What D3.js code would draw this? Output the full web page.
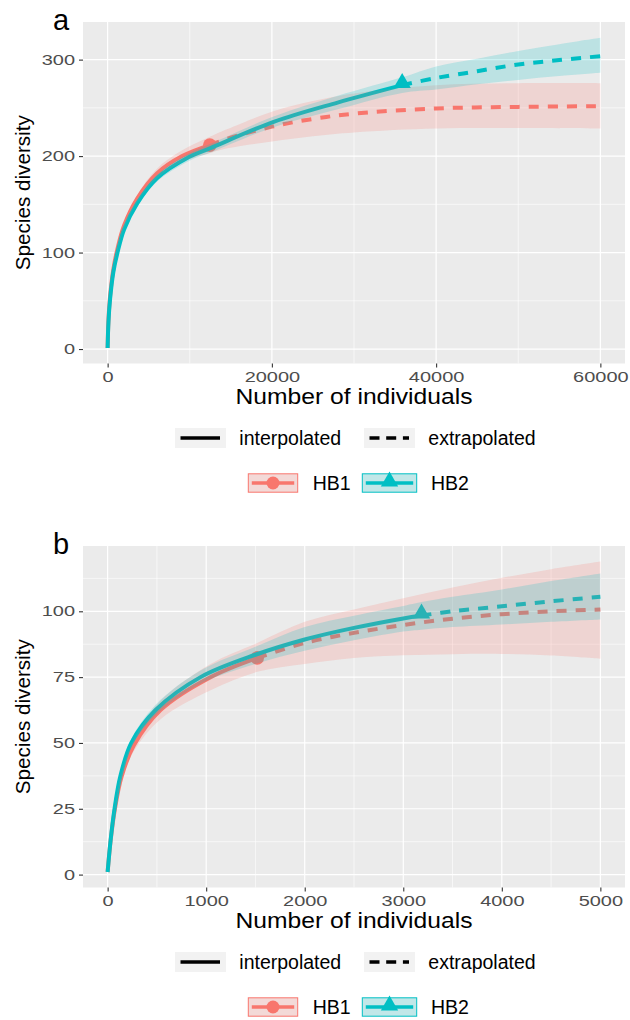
<!DOCTYPE html>
<html>
<head>
<meta charset="utf-8">
<script src="https://cdn.jsdelivr.net/npm/d3@7"></script>
<style>
  body { margin: 0; background: #fff; }
  svg { display: block; }
  text { font-family: "Liberation Sans", Arial, sans-serif; }
</style>
</head>
<body>
<svg id="chart" width="630" height="1020"></svg>
<script>
// --- DATA ---
// panel a
const a_HB1_n  = [0, 100, 300, 700, 1200, 2000, 3600, 6000, 9080, 12440, 14600, 20000, 25000, 30000, 40000, 50000, 60000];
const a_HB1_qD = [1, 30, 55, 83, 104, 128, 156, 182, 200, 211.4, 218, 230.5, 238.5, 244, 249.4, 251, 251.8];
const a_HB1_lo = [1, 29.5, 54, 81.5, 102, 125.5, 152.5, 177, 194, 203, 208, 215, 220.5, 224.5, 228.5, 229, 228.5];
const a_HB1_hi = [1, 30.5, 56, 84.5, 106, 130.5, 159.5, 187, 206, 220, 228, 246, 257, 265, 273.5, 275.5, 275.5];
const a_HB1_ref = 12440;

const a_HB2_n  = [0, 100, 300, 700, 1200, 2000, 3600, 6000, 9900, 12440, 20220, 28000, 35866, 40000, 45000, 50000, 55000, 60000];
const a_HB2_qD = [1, 28, 52, 80, 100, 124, 151, 177, 199, 208, 235.5, 255.5, 273.6, 281, 288, 295, 299.5, 303.6];
const a_HB2_lo = [1, 27.5, 51, 78.5, 98, 121.5, 148, 173.5, 195, 203.5, 230, 248.5, 265.5, 269, 274.5, 279, 283, 286.3];
const a_HB2_hi = [1, 28.5, 53, 81.5, 102, 126.5, 154, 180.5, 203, 212.5, 241, 262.5, 281.7, 293, 301, 309, 316, 322.6];
const a_HB2_ref = 35866;

// panel b
const b_HB1_n  = [0, 30, 72, 140, 265, 537, 1045, 1518, 2000, 2500, 3000, 3500, 4000, 4500, 5000];
const b_HB1_qD = [1, 12.8, 24.5, 37, 49, 62.5, 75, 82.3, 88, 91.8, 94.8, 97.2, 98.9, 100, 100.7];
const b_HB1_lo = [1, 12.4, 23.6, 35.6, 46.8, 59, 70, 77, 80, 82.3, 83.3, 83.7, 83.8, 83.2, 82];
const b_HB1_hi = [1, 13.2, 25.4, 38.4, 51.2, 66, 80, 88, 96, 100.7, 105, 109, 112.7, 116, 118.9];
const b_HB1_ref = 1518;

const b_HB2_n  = [0, 30, 70, 130, 240, 487, 943, 1500, 2000, 2500, 3000, 3185, 3500, 4000, 4500, 5000];
const b_HB2_qD = [1, 13, 25, 37.5, 50, 62.5, 75, 83.5, 89.3, 93.7, 97.3, 98.4, 100, 101.9, 103.8, 105.5];
const b_HB2_lo = [1, 12.7, 24.3, 36.5, 48.5, 60.5, 72.5, 80, 85, 89, 92.3, 93, 94, 95, 96, 96.9];
const b_HB2_hi = [1, 13.3, 25.7, 38.5, 51.5, 64.5, 77.5, 86.5, 94, 98.3, 102, 103.5, 105.5, 108.3, 111.5, 114.4];
const b_HB2_ref = 3185;

const a_xTicks = [0, 20000, 40000, 60000];
const a_xMinor = [10000, 30000, 50000];
const a_yTicks = [0, 100, 200, 300];
const a_yMinor = [50, 150, 250];
const b_xTicks = [0, 1000, 2000, 3000, 4000, 5000];
const b_xMinor = [500, 1500, 2500, 3500, 4500];
const b_yTicks = [0, 25, 50, 75, 100];
const b_yMinor = [12.5, 37.5, 62.5, 87.5, 112.5];

const sites = ["HB1", "HB2"];
const methods = ["interpolated", "extrapolated"];

// --- SETUP ---
const svg = d3.select("#chart");
const RED = "#F8766D", TEAL = "#00BFC4";
const colorOf = { HB1: RED, HB2: TEAL };
const L = 83, R = 625, H = 341.5;

function series(n, qD, lo, hi, ref) {
    return n.map((v, i) => ({ n: v, qD: qD[i], lo: lo[i], hi: hi[i], ref: ref }));
}

function drawPanel(p) {
    const top = p.top, bottom = top + H;
    const x = d3.scaleLinear().domain(p.xDomain).range([L, R]);
    const y = d3.scaleLinear().domain(p.yDomain).range([bottom, top]);
    const g = svg.append("g");

    g.append("rect").attr("x", L).attr("y", top).attr("width", R - L).attr("height", H).attr("fill", "#EBEBEB");

    // grid
    g.selectAll("line.vmin").data(p.xMinor).join("line")
        .attr("x1", d => x(d)).attr("x2", d => x(d)).attr("y1", top).attr("y2", bottom)
        .attr("stroke", "#fff").attr("stroke-width", 0.6);
    g.selectAll("line.hmin").data(p.yMinor).join("line")
        .attr("y1", d => y(d)).attr("y2", d => y(d)).attr("x1", L).attr("x2", R)
        .attr("stroke", "#fff").attr("stroke-width", 0.6);
    g.selectAll("line.vmaj").data(p.xTicks).join("line")
        .attr("x1", d => x(d)).attr("x2", d => x(d)).attr("y1", top).attr("y2", bottom)
        .attr("stroke", "#fff").attr("stroke-width", 1.2);
    g.selectAll("line.hmaj").data(p.yTicks).join("line")
        .attr("y1", d => y(d)).attr("y2", d => y(d)).attr("x1", L).attr("x2", R)
        .attr("stroke", "#fff").attr("stroke-width", 1.2);

    // axes
    const ax = g.append("g").attr("transform", `translate(0,${bottom})`)
        .call(d3.axisBottom(x).tickValues(p.xTicks).tickSize(4).tickPadding(5).tickFormat(d3.format("d")));
    const ay = g.append("g").attr("transform", `translate(${L},0)`)
        .call(d3.axisLeft(y).tickValues(p.yTicks).tickSize(4).tickPadding(4).tickFormat(d3.format("d")));
    [ax, ay].forEach(a => {
        a.select(".domain").remove();
        a.selectAll(".tick line").attr("stroke", "#333").attr("stroke-width", 1.1);
        a.selectAll(".tick text").attr("fill", "#4D4D4D").attr("font-size", 14.5)
            .attr("font-family", "Liberation Sans, Arial, sans-serif")
            .attr("textLength", d => String(d).length * 11.1).attr("lengthAdjust", "spacingAndGlyphs");
    });
    ax.selectAll(".tick text").attr("dy", "0.68em");

    const line = d3.line().x(d => x(d.n)).y(d => y(d.qD)).curve(d3.curveCatmullRom.alpha(0.5));
    const area = d3.area().x(d => x(d.n)).y0(d => y(d.lo)).y1(d => y(d.hi)).curve(d3.curveCatmullRom.alpha(0.5));

    // reference points (drawn first, under lines)
    p.sites.forEach(s => {
        const r = s.pts.find(d => d.n === d.ref);
        if (s.name === "HB1") {
            g.append("circle").attr("cx", x(r.n)).attr("cy", y(r.qD)).attr("r", 6.8).attr("fill", colorOf[s.name]);
        } else {
            g.append("path").attr("d", d3.symbol(d3.symbolTriangle, 130)())
                .attr("transform", `translate(${x(r.n)},${y(r.qD) - 2})`).attr("fill", colorOf[s.name]);
        }
    });

    // lines
    p.sites.forEach(s => {
        const interp = s.pts.filter(d => d.n <= d.ref);
        const extrap = s.pts.filter(d => d.n >= d.ref);
        g.append("path").attr("d", line(interp)).attr("fill", "none")
            .attr("stroke", colorOf[s.name]).attr("stroke-width", 4);
        g.append("path").attr("d", line(extrap)).attr("fill", "none")
            .attr("stroke", colorOf[s.name]).attr("stroke-width", 4).attr("stroke-dasharray", "10,9");
    });

    // ribbons on top
    p.sites.forEach(s => {
        g.append("path").attr("d", area(s.pts)).attr("fill", colorOf[s.name]).attr("fill-opacity", 0.2);
    });

    // labels
    g.append("text").attr("x", 53).attr("y", top + 8).attr("font-size", 29).attr("fill", "#000").text(p.label);
    g.append("text").attr("x", (L + R) / 2).attr("y", bottom + 40).attr("text-anchor", "middle")
        .attr("font-size", 22).attr("fill", "#000")
        .attr("textLength", 237).attr("lengthAdjust", "spacingAndGlyphs").text("Number of individuals");
    g.append("text").attr("transform", `translate(30,${top + H / 2}) rotate(-90)`).attr("text-anchor", "middle")
        .attr("font-size", 20.5).attr("fill", "#000")
        .attr("textLength", 155).attr("lengthAdjust", "spacingAndGlyphs").text("Species diversity");

    drawLegend(top + 416, top + 461);
}

function drawLegend(y1, y2) {
    const lg = svg.append("g");
    // linetype legend
    const keys = [
        { x: 175, tx: 239.3, dash: null, label: methods[0] },
        { x: 364, tx: 428.3, dash: "10,6.7", label: methods[1] }
    ];
    keys.forEach(k => {
        lg.append("rect").attr("x", k.x).attr("y", y1 - 10).attr("width", 51).attr("height", 20).attr("fill", "#F2F2F2");
        lg.append("line").attr("x1", k.x + 5.5).attr("x2", k.x + 45).attr("y1", y1).attr("y2", y1)
            .attr("stroke", "#000").attr("stroke-width", 3.5).attr("stroke-dasharray", k.dash);
        lg.append("text").attr("x", k.tx).attr("y", y1 + 7).attr("font-size", 19.5).attr("fill", "#000").text(k.label);
    });
    // site legend
    const skeys = [
        { x: 248.3, tx: 312.7, site: sites[0] },
        { x: 362.3, tx: 431, site: sites[1] }
    ];
    skeys.forEach(k => {
        const c = colorOf[k.site], w = k.site === "HB1" ? 49.4 : 54.4, cx = k.x + w / 2;
        lg.append("rect").attr("x", k.x).attr("y", y2 - 9.2).attr("width", w).attr("height", 18.4).attr("fill", "#F2F2F2");
        lg.append("rect").attr("x", k.x).attr("y", y2 - 9.2).attr("width", w).attr("height", 18.4)
            .attr("fill", c).attr("fill-opacity", 0.2).attr("stroke", c).attr("stroke-width", 1);
        lg.append("line").attr("x1", k.x + 3.5).attr("x2", k.x + w - 3.5).attr("y1", y2).attr("y2", y2)
            .attr("stroke", c).attr("stroke-width", 3.5);
        if (k.site === "HB1") {
            lg.append("circle").attr("cx", cx).attr("cy", y2).attr("r", 6.5).attr("fill", c);
        } else {
            lg.append("path").attr("d", d3.symbol(d3.symbolTriangle, 130)())
                .attr("transform", `translate(${cx},${y2 - 1.5})`).attr("fill", c);
        }
        lg.append("text").attr("x", k.tx).attr("y", y2 + 7).attr("font-size", 19.5).attr("fill", "#000").text(k.site);
    });
}

drawPanel({
    top: 22, label: "a",
    xDomain: [-3000, 63000], yDomain: [-15, 339],
    xTicks: a_xTicks, xMinor: a_xMinor, yTicks: a_yTicks, yMinor: a_yMinor,
    sites: [
        { name: "HB1", pts: series(a_HB1_n, a_HB1_qD, a_HB1_lo, a_HB1_hi, a_HB1_ref) },
        { name: "HB2", pts: series(a_HB2_n, a_HB2_qD, a_HB2_lo, a_HB2_hi, a_HB2_ref) }
    ]
});

drawPanel({
    top: 546, label: "b",
    xDomain: [-250, 5250], yDomain: [-4.9, 124.8],
    xTicks: b_xTicks, xMinor: b_xMinor, yTicks: b_yTicks, yMinor: b_yMinor,
    sites: [
        { name: "HB1", pts: series(b_HB1_n, b_HB1_qD, b_HB1_lo, b_HB1_hi, b_HB1_ref) },
        { name: "HB2", pts: series(b_HB2_n, b_HB2_qD, b_HB2_lo, b_HB2_hi, b_HB2_ref) }
    ]
});
</script>
</body>
</html>
